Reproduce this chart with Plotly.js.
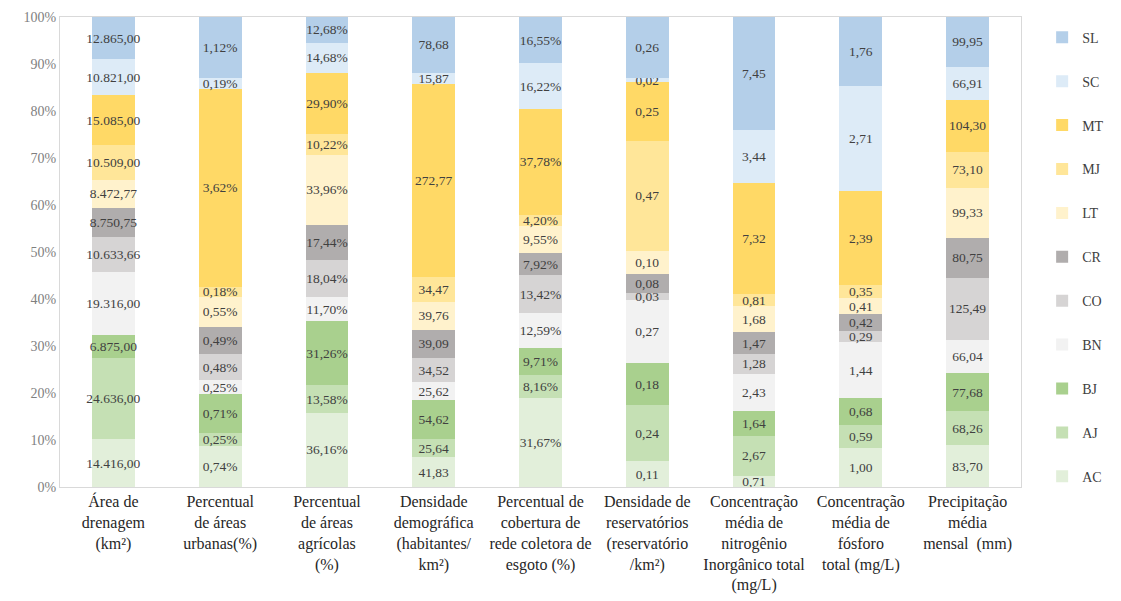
<!DOCTYPE html>
<html>
<head>
<meta charset="utf-8">
<script src="https://cdn.plot.ly/plotly-3.0.1.min.js"></script>
<style>html,body{margin:0;padding:0;background:#fff;}#chart{width:1121px;height:601px;}</style>
</head>
<body>
<div id="chart"></div>
<script>
// Categories (x axis)
const categories = [
  "Área de<br>drenagem<br>(km²)",
  "Percentual<br>de áreas<br>urbanas(%)",
  "Percentual<br>de áreas<br>agrícolas<br>(%)",
  "Densidade<br>demográfica<br>(habitantes/<br>km²)",
  "Percentual de<br>cobertura de<br>rede coletora de<br>esgoto (%)",
  "Densidade de<br>reservatórios<br>(reservatório<br>/km²)",
  "Concentração<br>média de<br>nitrogênio<br>Inorgânico total<br>(mg/L)",
  "Concentração<br>média de<br>fósforo<br>total (mg/L)",
  "Precipitação<br>média<br>mensal  (mm)"
];
// Which categories carry a "%" suffix on labels
const percentCats = [false, true, true, false, true, false, false, false, false];

// Series values (one value per category)
const AC = [14416.00, 0.74, 36.16, 41.83, 31.67, 0.11, 0.71, 1.00, 83.70];
const AJ = [24636.00, 0.25, 13.58, 25.64, 8.16, 0.24, 2.67, 0.59, 68.26];
const BJ = [6875.00, 0.71, 31.26, 54.62, 9.71, 0.18, 1.64, 0.68, 77.68];
const BN = [19316.00, 0.25, 11.70, 25.62, 12.59, 0.27, 2.43, 1.44, 66.04];
const CO = [10633.66, 0.48, 18.04, 34.52, 13.42, 0.03, 1.28, 0.29, 125.49];
const CR = [8750.75, 0.49, 17.44, 39.09, 7.92, 0.08, 1.47, 0.42, 80.75];
const LT = [8472.77, 0.55, 33.96, 39.76, 9.55, 0.10, 1.68, 0.41, 99.33];
const MJ = [10509.00, 0.18, 10.22, 34.47, 4.20, 0.47, 0.81, 0.35, 73.10];
const MT = [15085.00, 3.62, 29.90, 272.77, 37.78, 0.25, 7.32, 2.39, 104.30];
const SC = [10821.00, 0.19, 14.68, 15.87, 16.22, 0.02, 3.44, 2.71, 66.91];
const SL = [12865.00, 1.12, 12.68, 78.68, 16.55, 0.26, 7.45, 1.76, 99.95];

const seriesNames = ["AC","AJ","BJ","BN","CO","CR","LT","MJ","MT","SC","SL"];
const seriesValues = [AC, AJ, BJ, BN, CO, CR, LT, MJ, MT, SC, SL];
const seriesColors = ["#e2efda","#c5e0b4","#a9d08e","#f2f2f2","#d6d4d4","#b0adad",
                      "#fff2cc","#ffe699","#ffd966","#ddebf7","#b4cfe9"];

const SERIF = "Times New Roman, Liberation Serif, DejaVu Serif, serif";

function fmt(v, pct) {
  const parts = v.toFixed(2).split(".");
  parts[0] = parts[0].replace(/\B(?=(\d{3})+(?!\d))/g, ".");
  return parts[0] + "," + parts[1] + (pct ? "%" : "");
}

const traces = seriesNames.map((name, i) => ({
  type: "bar",
  name: name,
  legendgroup: name,
  legendrank: seriesNames.length - i,
  x: categories,
  y: seriesValues[i],
  text: seriesValues[i].map((v, j) => fmt(v, percentCats[j])),
  textposition: "inside",
  insidetextanchor: "middle",
  textangle: 0,
  textfont: {family: SERIF, size: 13.5, color: "#404040"},
  marker: {color: seriesColors[i], line: {width: 0}},
  hoverinfo: "name+text"
}));

const layout = {
  width: 1121, height: 601,
  margin: {l: 60, r: 58, t: 17, b: 114},
  barmode: "stack",
  barnorm: "percent",
  bargap: 0.6,
  paper_bgcolor: "#ffffff",
  plot_bgcolor: "#ffffff",
  font: {family: SERIF, color: "#404040"},
  uniformtext: {minsize: 13.5, mode: "show"},
  xaxis: {
    showgrid: false, zeroline: false,
    showline: true, mirror: true, linecolor: "#d9d9d9", linewidth: 1,
    ticks: "", tickangle: 0,
    tickfont: {family: SERIF, size: 16, color: "#262626"}
  },
  yaxis: {
    range: [0, 100], dtick: 10, ticksuffix: "%",
    showgrid: false, zeroline: false,
    showline: true, mirror: true, linecolor: "#d9d9d9", linewidth: 1,
    ticks: "", tickfont: {family: SERIF, size: 14, color: "#7f7f7f"}
  },
  legend: {
    x: 1.022, xanchor: "left", y: 0.99, yanchor: "top",
    traceorder: "grouped",
    tracegroupgap: 22.7,
    font: {family: SERIF, size: 14, color: "#404040"},
    itemwidth: 30
  },
  showlegend: true
};

Plotly.newPlot("chart", traces, layout, {displayModeBar: false, staticPlot: true});
</script>
</body>
</html>
